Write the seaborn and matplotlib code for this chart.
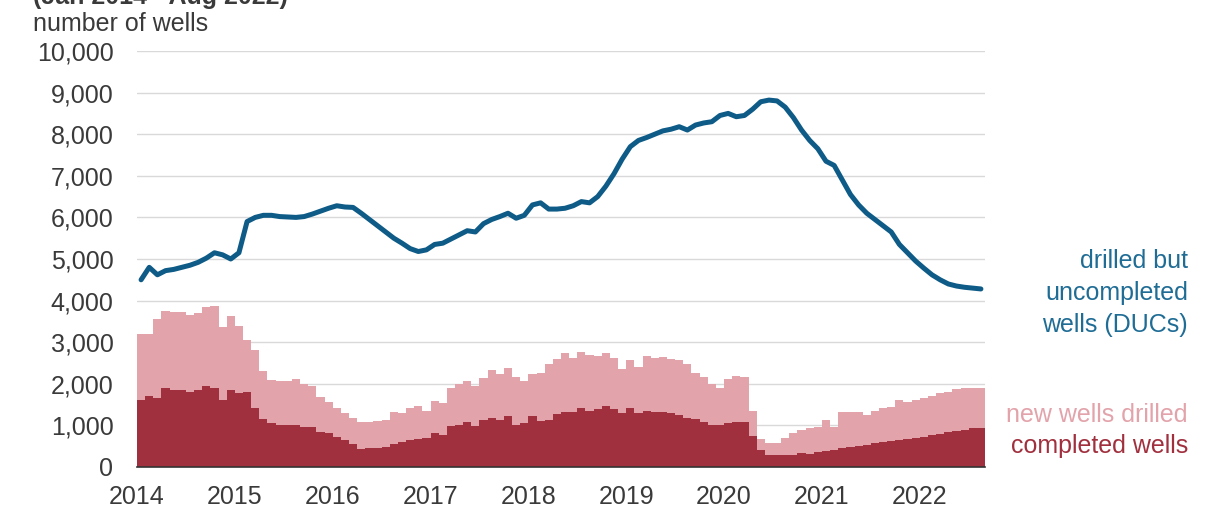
import numpy as np
import pandas as pd
import seaborn as sns
import matplotlib.pyplot as plt
from matplotlib.ticker import FuncFormatter

# monthly data, Jan 2014 - Aug 2022
months = pd.date_range("2014-01-01", "2022-08-01", freq="MS")

completed_wells = [
    1610, 1715, 1665, 1890, 1850, 1850, 1810, 1850, 1955, 1890, 1610, 1850,
    1790, 1810, 1410, 1150, 1050, 1010, 1010, 1010, 970, 970, 850, 810,
    730, 650, 545, 435, 465, 465, 490, 545, 595, 650, 675, 705,
    810, 770, 990, 1000, 1080, 980, 1130, 1185, 1130, 1235, 1010, 1050,
    1235, 1105, 1130, 1265, 1315, 1330, 1410, 1345, 1395, 1475, 1395, 1290,
    1425, 1290, 1345, 1330, 1330, 1290, 1250, 1185, 1160, 1075, 1010, 1010,
    1050, 1075, 1075, 755, 410, 290, 290, 290, 295, 330, 320, 350,
    390, 420, 450, 480, 510, 540, 570, 600, 630, 650, 680, 700,
    730, 760, 800, 830, 860, 900, 930, 945,
]

new_wells_drilled = [
    1580, 1475, 1895, 1860, 1870, 1880, 1840, 1840, 1895, 1990, 1750, 1790,
    1610, 1240, 1400, 1160, 1040, 1060, 1060, 1105, 1020, 985, 840, 745,
    695, 640, 640, 640, 625, 640, 640, 785, 695, 760, 800, 640,
    775, 760, 900, 1000, 980, 970, 1000, 1145, 1100, 1155, 1160, 1020,
    995, 1145, 1340, 1335, 1415, 1300, 1360, 1345, 1285, 1255, 1215, 1065,
    1145, 1110, 1330, 1300, 1320, 1310, 1330, 1285, 1090, 1095, 980, 895,
    1065, 1120, 1095, 590, 265, 280, 280, 415, 515, 560, 610, 620,
    740, 550, 865, 835, 805, 710, 775, 810, 820, 960, 890, 910,
    935, 955, 970, 980, 1015, 990, 975, 960,
]

ducs = [
    4500, 4800, 4620, 4720, 4750, 4800, 4850, 4920, 5020, 5150, 5100, 5000,
    5150, 5900, 6000, 6050, 6050, 6020, 6010, 6000, 6020, 6080, 6150, 6220,
    6280, 6250, 6240, 6100, 5950, 5800, 5650, 5500, 5380, 5250, 5180, 5220,
    5350, 5380, 5480, 5580, 5680, 5650, 5850, 5950, 6020, 6100, 5980, 6050,
    6300, 6350, 6200, 6200, 6220, 6280, 6380, 6350, 6500, 6750, 7050, 7400,
    7700, 7850, 7920, 8000, 8080, 8120, 8180, 8100, 8220, 8270, 8300, 8450,
    8500, 8420, 8450, 8600, 8780, 8820, 8800, 8650, 8400, 8100, 7850, 7650,
    7350, 7250, 6900, 6550, 6300, 6100, 5950, 5800, 5650, 5350, 5150, 4950,
    4780, 4620, 4500, 4400, 4350, 4320, 4300, 4280,
]

years = list(range(2014, 2023))

df = pd.DataFrame({
    "month": np.arange(len(months)),
    "completed": completed_wells,
    "drilled": new_wells_drilled,
    "ducs": ducs,
})
df["stack_top"] = df["completed"] + df["drilled"]

sns.set_style("white")
plt.rcParams["font.family"] = ["Liberation Sans", "DejaVu Sans"]

c_duc = "#0e5b87"
c_duc_text = "#1f6c95"
c_drilled = "#e2a3ab"
c_completed = "#a1303e"
c_text = "#3a3a3a"
fs = 18

fig = plt.figure(figsize=(12.11, 5.09), dpi=100)
ax = fig.add_axes([137 / 1211, 1 - 467 / 509, (985 - 137) / 1211, (467 - 51) / 509])

sns.barplot(data=df, x="month", y="stack_top", color=c_drilled, saturation=1,
            width=1, linewidth=0, errorbar=None, ax=ax)
sns.barplot(data=df, x="month", y="completed", color=c_completed, saturation=1,
            width=1, linewidth=0, errorbar=None, ax=ax)
sns.lineplot(data=df, x="month", y="ducs", color=c_duc, linewidth=3.6, ax=ax)

ax.set_xlim(-0.5, len(months) - 0.5)
ax.set_ylim(0, 10000)
ax.set_yticks(range(0, 10001, 1000))
ax.yaxis.set_major_formatter(FuncFormatter(lambda v, p: f"{int(v):,}"))
ax.set_xticks([12 * i - 0.5 for i in range(len(years))])
ax.set_xticklabels([str(y) for y in years])
ax.set_xlabel("")
ax.set_ylabel("")

ax.set_axisbelow(True)
ax.yaxis.grid(True, color="#d9d9d9", linewidth=1)
ax.xaxis.grid(False)
for s in ["top", "right", "left"]:
    ax.spines[s].set_visible(False)
ax.spines["bottom"].set_color("#333333")
ax.spines["bottom"].set_linewidth(1.2)
ax.tick_params(axis="x", direction="out", length=7, width=1.2, color="#333333",
               labelsize=fs, labelcolor=c_text, pad=6)
ax.tick_params(axis="y", length=0, labelsize=fs, labelcolor=c_text, pad=17)

fig.text(33 / 1211, 1 - 36 / 509, "number of wells", fontsize=fs, color=c_text,
         ha="left", va="bottom")
fig.text(33 / 1211, 1 - 9 / 509, "(Jan 2014 - Aug 2022)", fontsize=fs,
         fontweight="bold", color=c_text, ha="left", va="bottom")

fig.text(1188 / 1211, 1 - 293 / 509, "drilled but\nuncompleted\nwells (DUCs)",
         fontsize=fs, color=c_duc_text, ha="right", va="center", linespacing=1.4)
fig.text(1188 / 1211, 1 - 415 / 509, "new wells drilled", fontsize=fs,
         color=c_drilled, ha="right", va="center")
fig.text(1188 / 1211, 1 - 446 / 509, "completed wells", fontsize=fs,
         color=c_completed, ha="right", va="center")

fig.savefig("out.png", dpi=100)
